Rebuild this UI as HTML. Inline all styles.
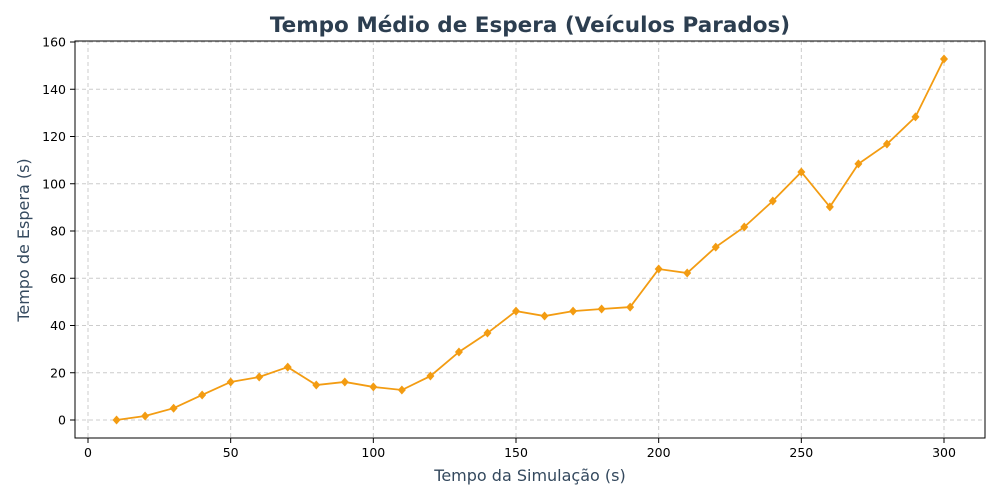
<!DOCTYPE html>
<html><head><meta charset="utf-8"><style>
body{margin:0;background:#fff;}
svg{display:block;font-family:"DejaVu Sans","Liberation Sans",sans-serif;}
</style></head><body>
<svg id="chart" width="1000" height="500">
<text x="530" y="32" text-anchor="middle" font-size="21.5" font-weight="bold" fill="#2c3e50">Tempo Médio de Espera (Veículos Parados)</text>
<text x="530" y="481" text-anchor="middle" font-size="16" fill="#34495e">Tempo da Simulação (s)</text>
<text transform="translate(29,240) rotate(-90)" text-anchor="middle" font-size="16" fill="#34495e">Tempo de Espera (s)</text>
<g id="grid"></g><g id="axes"></g><g id="series"></g>
<rect x="75" y="41" width="910" height="397" fill="none" stroke="#000" stroke-width="1"/>
</svg>
<script>
const times=[10,20,30,40,50,60,70,80,90,100,110,120,130,140,150,160,170,180,190,200,210,220,230,240,250,260,270,280,290,300];
const waits=[0,1.7,5,10.6,16.1,18.2,22.4,14.8,16.1,14,12.7,18.6,28.8,36.8,46.1,44,46.1,47,47.8,63.9,62.2,73.2,81.7,92.7,105,90.2,108.4,116.8,128.3,152.8];
const xTicks=[0,50,100,150,200,250,300];
const yTicks=[0,20,40,60,80,100,120,140,160];
const NS="http://www.w3.org/2000/svg";
const xs=v=>88+v*(944-88)/300;
const ys=v=>420-v*(420-42)/160;
const grid=document.getElementById('grid'),axes=document.getElementById('axes'),ser=document.getElementById('series');
function mk(tag,attrs,parent){const e=document.createElementNS(NS,tag);for(const k in attrs)e.setAttribute(k,attrs[k]);parent.appendChild(e);return e;}
xTicks.forEach(t=>{
 const g=mk('line',{x1:xs(t),x2:xs(t),y1:41,y2:438,stroke:'#ccc','stroke-dasharray':'4,3'},grid);
 
 
 mk('line',{x1:xs(t),x2:xs(t),y1:438,y2:443,stroke:'#000'},axes);
 const l=mk('text',{x:xs(t),y:457,'text-anchor':'middle','font-size':12.5},axes);
 l.textContent=t;
 
 
});
yTicks.forEach(t=>{
 const g=mk('line',{x1:75,x2:985,y1:ys(t),y2:ys(t),stroke:'#ccc','stroke-dasharray':'4,3'},grid);
 
 
 mk('line',{x1:70,x2:75,y1:ys(t),y2:ys(t),stroke:'#000'},axes);
 const l=mk('text',{x:66,y:ys(t)+4.5,'text-anchor':'end','font-size':12.5},axes);
 l.textContent=t;
 
 
});
const line=mk('polyline',{points:times.map((t,i)=>xs(t)+','+ys(waits[i])).join(' '),fill:'none',stroke:'#f39c12','stroke-width':1.8},ser);


times.forEach((t,i)=>{
 const x=xs(t),y=ys(waits[i]);
 const m=mk('polygon',{points:`${x},${y-4.5} ${x+4},${y} ${x},${y+4.5} ${x-4},${y}`,fill:'#f39c12'},ser);
 
 
});
</script>
</body></html>
